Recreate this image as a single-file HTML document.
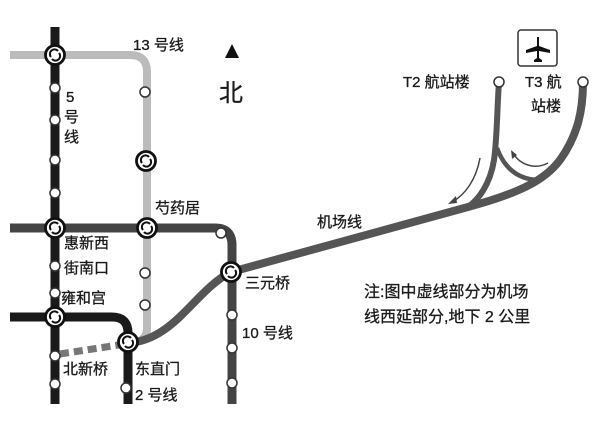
<!DOCTYPE html>
<html><head><meta charset="utf-8"><style>
html,body{margin:0;padding:0;background:#fff}
svg{display:block}
text{font-family:"Liberation Sans","Noto Sans CJK SC",sans-serif;fill:#1a1a1a;stroke:#1a1a1a;stroke-width:0.3}
</style></head><body>
<svg width="604" height="437" viewBox="0 0 604 437" xmlns="http://www.w3.org/2000/svg">
<defs>
<g id="ic"><circle r="9.5" fill="#fff" stroke="#111" stroke-width="2.8"/><path d="M-4,2 A4.5,4.5 0 0 1 3,-4 M4,-2 A4.5,4.5 0 0 1 -3,4" fill="none" stroke="#111" stroke-width="2"/></g>
<g id="s"><circle r="5" fill="#fff" stroke="#333" stroke-width="1.5"/></g>
</defs>
<path d="M10,55 H130 Q147,55 147,72 V328 Q147,343 128,343" fill="none" stroke="#bbb" stroke-width="8"/>
<path d="M10,228 H215 Q232,228 232,245 V404" fill="none" stroke="#444" stroke-width="9"/>
<path d="M10,317 H112 Q128,317 128,333 V404" fill="none" stroke="#1a1a1a" stroke-width="9"/>
<path d="M55,27 V404" stroke="#1a1a1a" stroke-width="9"/>
<path d="M60,354 L125,344" stroke="#777" stroke-width="7" stroke-dasharray="9,5"/>
<path d="M128,343 C175,340 195,290 231,272 L468,207 C520,193 545,180 560,160 C578,135 583,110 583,82" fill="none" stroke="#555" stroke-width="8"/>
<path d="M499,82 C497,110 497,140 494,160 C490,185 478,200 468,207" fill="none" stroke="#555" stroke-width="6"/>
<path d="M497,148 C505,170 520,180 540,180" fill="none" stroke="#555" stroke-width="4.5"/>
<path d="M480,158 C476,180 465,195 452,202" fill="none" stroke="#444" stroke-width="1.5"/>
<path d="M448,204 L456,196 L457,203 Z" fill="#444"/>
<path d="M548,163 C535,170 520,165 513,153" fill="none" stroke="#444" stroke-width="1.5"/>
<path d="M511,150 L512,159 L517,155 Z" fill="#444"/>
<use href="#s" x="55" y="88"/><use href="#s" x="55" y="120"/><use href="#s" x="55" y="160"/><use href="#s" x="55" y="193"/><use href="#s" x="55" y="266"/><use href="#s" x="55" y="293"/><use href="#s" x="55" y="356"/><use href="#s" x="55" y="384"/>
<use href="#s" x="145" y="92"/><use href="#s" x="145" y="273"/><use href="#s" x="145" y="305"/>
<use href="#s" x="221" y="233"/><use href="#s" x="232" y="315"/><use href="#s" x="232" y="348"/><use href="#s" x="232" y="383"/>
<use href="#s" x="126" y="388"/>
<use href="#s" x="499" y="82"/><use href="#s" x="583" y="82"/>
<use href="#ic" x="55" y="55"/><use href="#ic" x="146" y="161"/><use href="#ic" x="55" y="228"/><use href="#ic" x="147" y="228"/><use href="#ic" x="231" y="272"/><use href="#ic" x="55" y="317"/><use href="#ic" x="128" y="342"/>
<path d="M232,44 L225,58 L239,58 Z" fill="#111"/>
<text x="219" y="101" font-size="24">北</text>
<rect x="518" y="30" width="39" height="36" rx="3" fill="#fff" stroke="#333" stroke-width="1.5"/>
<path d="M537,37 L539,37 L539,46 L550,50 L550,53 L539,51 L539,58 L542,60 L542,62 L534,62 L534,60 L537,58 L537,51 L526,53 L526,50 L537,46 Z" fill="#111"/>
<g font-size="15">
<text x="133" y="50">13 号线</text>
<text x="66" y="102">5</text>
<text x="64" y="122">号</text>
<text x="64" y="142">线</text>
<text x="155" y="213">芍药居</text>
<text x="64" y="248">惠新西</text>
<text x="64" y="273">街南口</text>
<text x="61" y="303">雍和宫</text>
<text x="63" y="374">北新桥</text>
<text x="135" y="374">东直门</text>
<text x="135" y="400">2 号线</text>
<text x="245" y="288">三元桥</text>
<text x="242" y="338">10 号线</text>
<text x="317" y="227">机场线</text>
<text x="403" y="87">T2 航站楼</text>
<text x="525" y="87">T3 航</text>
<text x="531" y="111">站楼</text>
</g>
<g font-size="16">
<text x="364" y="297">注:图中虚线部分为机场</text>
<text x="364" y="322">线西延部分,地下 2 公里</text>
</g>
</svg>
</body></html>
